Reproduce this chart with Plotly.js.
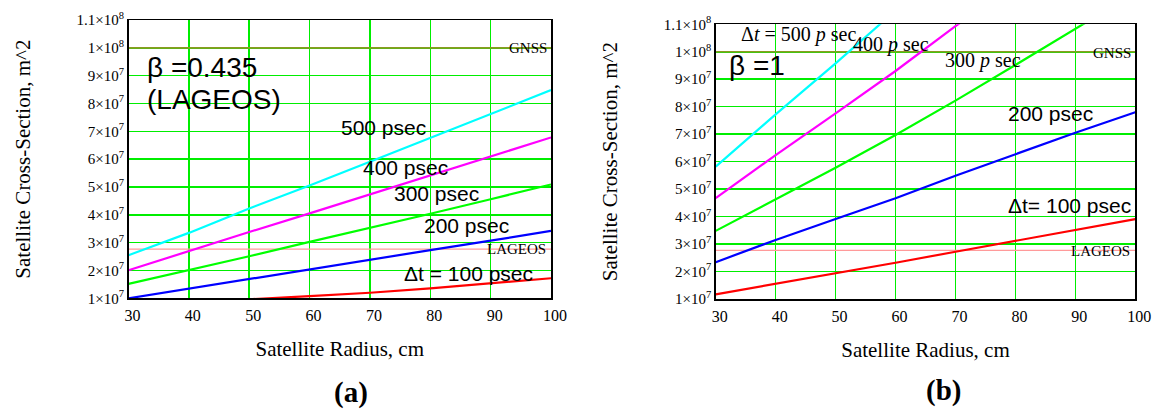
<!DOCTYPE html>
<html>
<head>
<meta charset="utf-8">
<script src="https://cdn.plot.ly/plotly-3.0.1.min.js"></script>
<style>html,body{margin:0;padding:0;background:#fff;}#chart{width:1154px;height:409px;}</style>
</head>
<body>
<div id="chart"></div>
<script>
// Satellite radius (cm)
const radius = [30, 40, 50, 60, 70, 80, 90, 100];

// Panel (a): beta = 0.435 (LAGEOS), cross-section in m^2
const a_dt500 = [2.55e7, 3.35e7, 4.23e7, 5.05e7, 5.91e7, 6.76e7, 7.62e7, 8.48e7];
const a_dt400 = [2.01e7, 2.70e7, 3.38e7, 4.05e7, 4.73e7, 5.42e7, 6.10e7, 6.78e7];
const a_dt300 = [1.52e7, 2.01e7, 2.51e7, 3.03e7, 3.53e7, 4.04e7, 4.56e7, 5.09e7];
const a_dt200 = [1.00e7, 1.35e7, 1.69e7, 2.04e7, 2.39e7, 2.73e7, 3.07e7, 3.42e7];
const a_dt100 = [0.80e7, 0.88e7, 0.965e7, 1.08e7, 1.20e7, 1.36e7, 1.54e7, 1.72e7];

// Panel (b): beta = 1
const b_dt500 = [5.82e7, 7.72e7, 9.58e7, 1.15e8, null, null, null, null];
const b_dt400 = [4.67e7, 6.24e7, 7.76e7, 9.30e7, 1.093e8, 1.25e8, null, null];
const b_dt300 = [3.48e7, 4.63e7, 5.78e7, 6.97e7, 8.22e7, 9.52e7, 1.082e8, 1.215e8];
const b_dt200 = [2.34e7, 3.15e7, 3.91e7, 4.67e7, 5.49e7, 6.28e7, 7.05e7, 7.80e7];
const b_dt100 = [1.17e7, 1.55e7, 1.94e7, 2.32e7, 2.72e7, 3.12e7, 3.51e7, 3.91e7];

// Reference levels
const refRadius = [30, 100];
const gnssLevel = 1e8;
const lageosLevel = 2.77e7;

// Tick labels
const yTickVals = [1e7, 2e7, 3e7, 4e7, 5e7, 6e7, 7e7, 8e7, 9e7, 1e8, 1.1e8];
const yTickText = ['1×10<sup>7</sup>', '2×10<sup>7</sup>', '3×10<sup>7</sup>', '4×10<sup>7</sup>',
  '5×10<sup>7</sup>', '6×10<sup>7</sup>', '7×10<sup>7</sup>', '8×10<sup>7</sup>',
  '9×10<sup>7</sup>', '1×10<sup>8</sup>', '1.1×10<sup>8</sup>'];
const xTickVals = [30, 40, 50, 60, 70, 80, 90, 100];
const xTickText = ['30', '40', '50', '60', '70', '80', '90', '100'];

const serif = 'Liberation Serif, Times New Roman, serif';
const sans = 'Liberation Sans, Arial, sans-serif';

function line(x, y, color, xa, ya, w) {
  return {x: x, y: y, type: 'scatter', mode: 'lines', xaxis: xa, yaxis: ya,
    line: {color: color, width: w || 2.2}, hoverinfo: 'skip', showlegend: false};
}

const traces = [
  line(refRadius, [gnssLevel, gnssLevel], '#8a9a22', 'x', 'y', 1.6),
  line(refRadius, [lageosLevel, lageosLevel], '#ff9a9a', 'x', 'y', 1.2),
  line(radius, a_dt500, '#00ffff', 'x', 'y'),
  line(radius, a_dt400, '#ff00ff', 'x', 'y'),
  line(radius, a_dt300, '#00ff00', 'x', 'y'),
  line(radius, a_dt200, '#0000ff', 'x', 'y'),
  line(radius, a_dt100, '#ff0000', 'x', 'y'),
  line(refRadius, [gnssLevel, gnssLevel], '#8a9a22', 'x2', 'y2', 1.6),
  line(refRadius, [lageosLevel, lageosLevel], '#ff9a9a', 'x2', 'y2', 1.2),
  line(radius, b_dt500, '#00ffff', 'x2', 'y2'),
  line(radius, b_dt400, '#ff00ff', 'x2', 'y2'),
  line(radius, b_dt300, '#00ff00', 'x2', 'y2'),
  line(radius, b_dt200, '#0000ff', 'x2', 'y2'),
  line(radius, b_dt100, '#ff0000', 'x2', 'y2')
];

function xAxis(domain, anchor) {
  return {domain: domain, anchor: anchor, range: [30, 100], tickvals: xTickVals, ticktext: xTickText,
    showgrid: true, gridcolor: '#00ee00', gridwidth: 1.5, zeroline: false,
    showline: true, linecolor: '#000', linewidth: 1.5, mirror: true, ticks: '',
    tickfont: {family: serif, size: 16, color: '#000'}, ticklabelstandoff: 2, ticklabelshift: 4,
    automargin: false,
    title: {text: 'Satellite Radius, cm', font: {family: serif, size: 21, color: '#000'}, standoff: 18}};
}
function yAxis(domain, anchor) {
  return {domain: domain, anchor: anchor, range: [1e7, 1.1e8], tickvals: yTickVals, ticktext: yTickText,
    showgrid: true, gridcolor: '#00ee00', gridwidth: 1.5, zeroline: false,
    showline: true, linecolor: '#000', linewidth: 1.5, mirror: true, ticks: '',
    tickfont: {family: serif, size: 15, color: '#000'}, ticklabelstandoff: 0,
    automargin: false,
    title: {text: 'Satellite Cross-Section, m^2', font: {family: serif, size: 21, color: '#000'}, standoff: 40}};
}

function label(text, x, y, xr, yr, size, family, xanchor) {
  return {text: text, x: x, y: y, xref: xr, yref: yr, showarrow: false,
    xanchor: xanchor || 'left', yanchor: 'middle',
    font: {family: family, size: size, color: '#000'}};
}

const annotations = [
  label('β =0.435', 32.8, 9.31e7, 'x', 'y', 28, sans),
  label('(LAGEOS)', 32.8, 8.13e7, 'x', 'y', 28, sans),
  label('500 psec', 64.95, 7.13e7, 'x', 'y', 21, sans),
  label('400 psec', 68.55, 5.71e7, 'x', 'y', 21, sans),
  label('300 psec', 73.64, 4.77e7, 'x', 'y', 21, sans),
  label('200 psec', 78.62, 3.60e7, 'x', 'y', 21, sans),
  label('Δt = 100 psec', 75.3, 1.89e7, 'x', 'y', 21, sans),
  label('GNSS', 99.6, 1.0e8, 'x', 'y', 15, serif, 'right'),
  label('LAGEOS', 99.5, 2.77e7, 'x', 'y', 15, serif, 'right'),
  label('β =1', 31.84, 9.50e7, 'x2', 'y2', 28, sans),
  label('Δ<i>t</i> = 500 <i>p</i> sec', 33.94, 1.063e8, 'x2', 'y2', 20, serif),
  label('400 <i>p</i> sec', 52.52, 1.027e8, 'x2', 'y2', 20, serif),
  label('300 <i>p</i> sec', 67.97, 9.69e7, 'x2', 'y2', 20, serif),
  label('200 psec', 78.38, 7.75e7, 'x2', 'y2', 21, sans),
  label('Δt= 100 psec', 78.38, 4.39e7, 'x2', 'y2', 21, sans),
  label('GNSS', 99.57, 0.996e8, 'x2', 'y2', 15, serif, 'right'),
  label('LAGEOS', 99.4, 2.74e7, 'x2', 'y2', 15, serif, 'right'),
  {text: '<b>(a)</b>', x: 351 / 1154, y: 1 - 392 / 409, xref: 'paper', yref: 'paper', showarrow: false,
    xanchor: 'center', yanchor: 'middle', font: {family: serif, size: 29, color: '#000'}},
  {text: '<b>(b)</b>', x: 943 / 1154, y: 1 - 390 / 409, xref: 'paper', yref: 'paper', showarrow: false,
    xanchor: 'center', yanchor: 'middle', font: {family: serif, size: 29, color: '#000'}}
];

const layout = {
  width: 1154, height: 409,
  margin: {l: 0, r: 0, t: 0, b: 0},
  paper_bgcolor: '#fff', plot_bgcolor: '#fff',
  showlegend: false,
  xaxis: xAxis([128.5 / 1154, 551 / 1154], 'y'),
  yaxis: yAxis([1 - 298.3 / 409, 1 - 20 / 409], 'x'),
  xaxis2: xAxis([715.7 / 1154, 1135.3 / 1154], 'y2'),
  yaxis2: yAxis([1 - 299 / 409, 1 - 24.3 / 409], 'x2'),
  annotations: annotations
};

Plotly.newPlot('chart', traces, layout, {staticPlot: true, displayModeBar: false});
</script>
</body>
</html>
